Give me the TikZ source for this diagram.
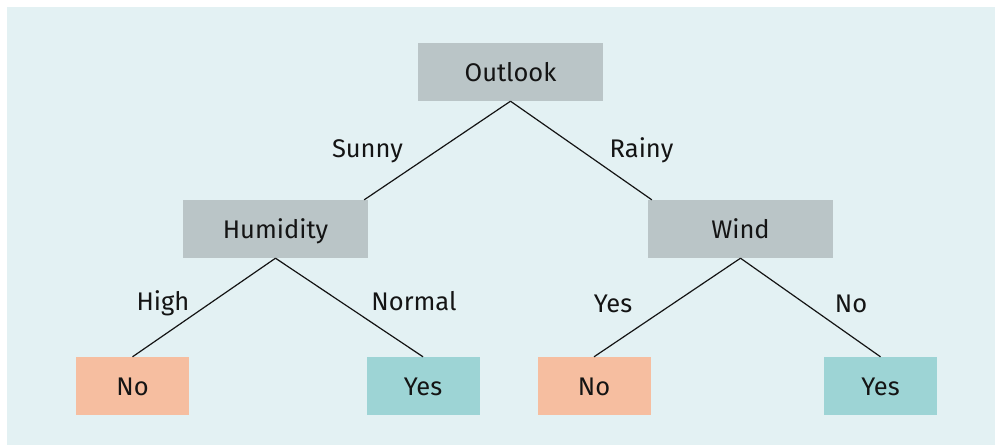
\documentclass[tikz,border=0pt]{standalone}
\usepackage{fontspec}
\setmainfont{Fira Sans}
\definecolor{panel}{RGB}{227,241,243}
\definecolor{testgray}{RGB}{186,197,199}
\definecolor{leafno}{RGB}{246,190,160}
\definecolor{leafyes}{RGB}{157,212,213}
\definecolor{ink}{RGB}{20,20,20}
\begin{document}
\begin{tikzpicture}[x=1pt,y=-1pt,
  font=\fontsize{25.5}{30}\selectfont,
  every node/.style={text=ink},
  box/.style={inner sep=0pt, text height=18pt, text depth=0pt, minimum height=58pt},
  test/.style={box, fill=testgray, minimum width=185pt},
  leafn/.style={box, fill=leafno, minimum width=113pt},
  leafy/.style={box, fill=leafyes, minimum width=113pt},
  branch/.style={anchor=base, inner sep=0pt},
  edge/.style={draw=ink, line width=1.2pt}]
% page and panel
\fill[white] (0,0) rectangle (995,445);
\fill[panel] (7,7) rectangle (995,445);
\useasboundingbox (0,0) rectangle (995,445);

% decision nodes
\node[test] (outlook) at (510.5,72) {Outlook};
\node[test] (humidity) at (275.5,229) {Humidity};
\node[test] (wind) at (740.5,229) {Wind};

% leaves
\node[leafn] (no1) at (132.5,386) {No};
\node[leafy] (yes1) at (423,386) {Yes};
\node[leafn] (no2) at (594,386) {No};
\node[leafy] (yes2) at (880.5,386) {Yes};

% branches
\draw[edge] (outlook.south) -- ([xshift=-4pt]humidity.north east);
\draw[edge] (outlook.south) -- ([xshift=4pt]wind.north west);
\draw[edge] (humidity.south) -- (no1.north);
\draw[edge] (humidity.south) -- (yes1.north);
\draw[edge] (wind.south) -- (no2.north);
\draw[edge] (wind.south) -- (yes2.north);

% branch labels
\node[branch] (lsunny) at (367.5,157) {Sunny};
\node[branch] (lrainy) at (641.5,157) {Rainy};
\node[branch] (lhigh) at (163,310) {High};
\node[branch] (lnormal) at (414,310) {Normal};
\node[branch] (lyes) at (613,312) {Yes};
\node[branch] (lno) at (851,312) {No};
\end{tikzpicture}
\end{document}
